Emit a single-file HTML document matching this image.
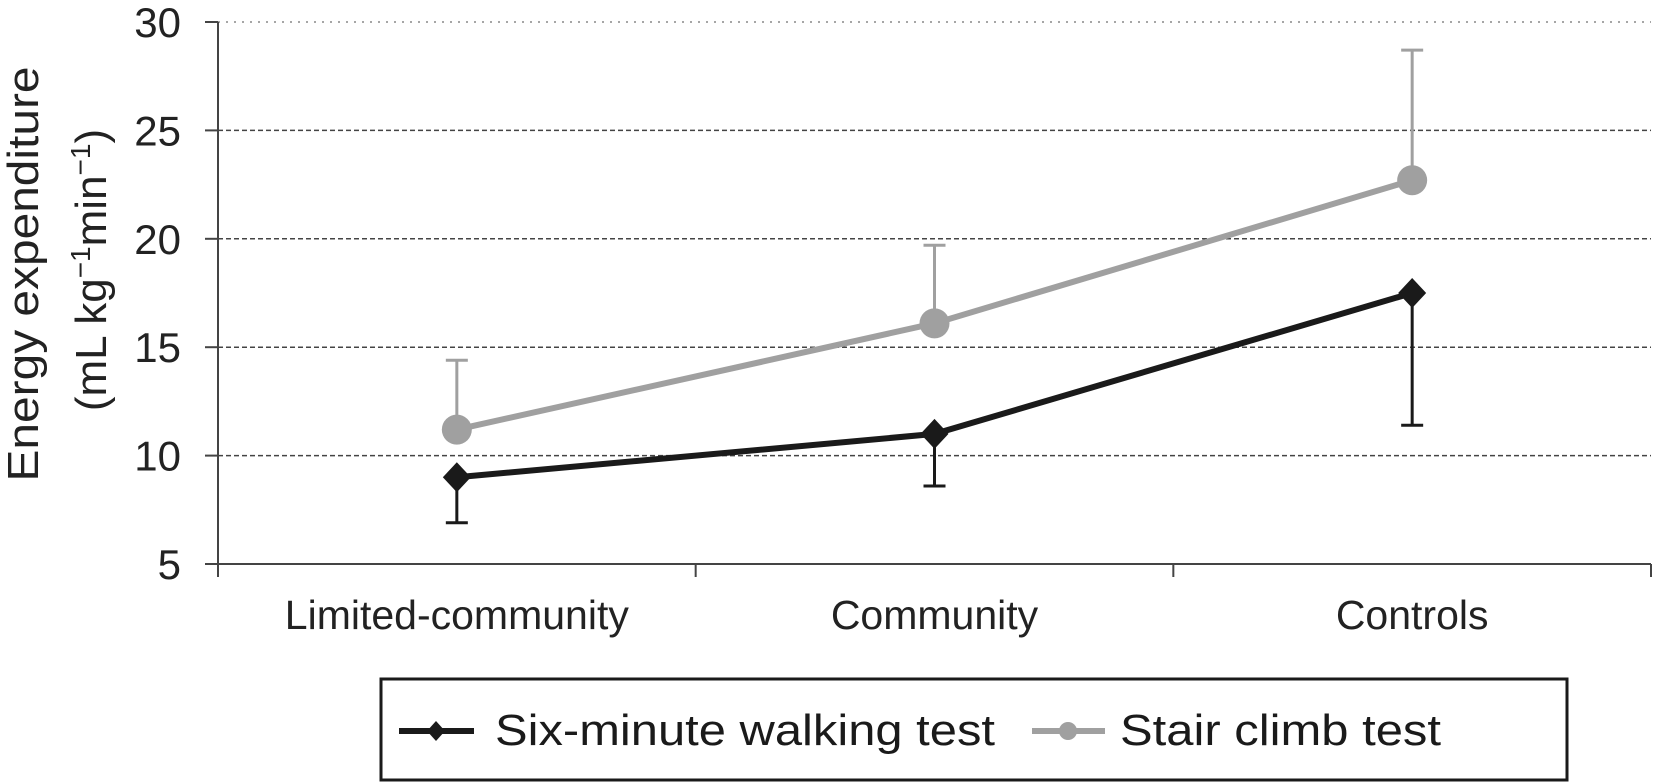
<!DOCTYPE html>
<html><head><meta charset="utf-8"><style>
html,body{margin:0;padding:0;background:#fff;}
svg{display:block;font-family:"Liberation Sans",Arial,sans-serif;}
</style></head><body>
<svg id="chart" width="1655" height="783" viewBox="0 0 1655 783">
<g id="grid"></g>
<g id="axes"></g>
<g id="series"></g>
<text transform="translate(38,274) rotate(-90)" text-anchor="middle" font-size="44" fill="#222" textLength="415" lengthAdjust="spacingAndGlyphs">Energy expenditure</text>
<text transform="translate(106,270) rotate(-90)" text-anchor="middle" font-size="44" fill="#222">(mL kg<tspan font-size="28" dy="-16">−1</tspan><tspan dy="16">min</tspan><tspan font-size="28" dy="-16">−1</tspan><tspan dy="16">)</tspan></text>
<g>
<rect x="381" y="679" width="1186" height="101" fill="#fff" stroke="#1a1a1a" stroke-width="3"/>
<g>
<line x1="399" y1="731" x2="474" y2="731" stroke="#1a1a1a" stroke-width="6"/>
<path d="M436 721 L445 731 L436 741 L427 731 Z" fill="#1a1a1a"/>
<text x="495" y="745" font-size="44" fill="#1a1a1a" textLength="500" lengthAdjust="spacingAndGlyphs">Six-minute walking test</text>
</g>
<g>
<line x1="1032" y1="731" x2="1105" y2="731" stroke="#a0a0a0" stroke-width="6"/>
<circle cx="1068" cy="731" r="9" fill="#a0a0a0"/>
<text x="1120" y="745" font-size="44" fill="#1a1a1a" textLength="321" lengthAdjust="spacingAndGlyphs">Stair climb test</text>
</g>
</g>
</svg>
<script>
const categories = ["Limited-community", "Community", "Controls"];
const sixMinute = [9.0, 11.0, 17.5];
const sixMinuteLower = [6.9, 8.6, 11.4];
const stairClimb = [11.2, 16.1, 22.7];
const stairClimbUpper = [14.4, 19.7, 28.7];
const yTicks = [5, 10, 15, 20, 25, 30];

const NS = "http://www.w3.org/2000/svg";
const X0 = 218, X1 = 1651, Y0 = 564, Y1 = 22, VMIN = 5, VMAX = 30;
function yScale(v){ return Y0 - (v - VMIN) / (VMAX - VMIN) * (Y0 - Y1); }
const band = (X1 - X0) / categories.length;
function xScale(i){ return X0 + band * (i + 0.5); }
function mk(tag, attrs, parent){
  const e = document.createElementNS(NS, tag);
  for (const k in attrs) e.setAttribute(k, attrs[k]);
  parent.appendChild(e);
  return e;
}
const grid = document.getElementById('grid');
const axes = document.getElementById('axes');
const series = document.getElementById('series');

yTicks.forEach(t => {
  const y = yScale(t);
  if (t !== VMIN) {
    const g = mk('line', {x1: X0, x2: X1, y1: y, y2: y, stroke: t === VMAX ? '#888' : '#444', 'stroke-width': 1.5, 'stroke-dasharray': t === VMAX ? '2,6' : '5,3'}, grid);
    
    
  }
  const tk = mk('line', {x1: 205, x2: X0, y1: y, y2: y, stroke: '#444', 'stroke-width': 2}, axes);
  
  
  const lb = mk('text', {x: 181, y: y + 15, 'text-anchor': 'end', 'font-size': 42, fill: '#222'}, axes);
  lb.textContent = t;
  
  
});
const ya = mk('line', {x1: X0, x2: X0, y1: Y1, y2: 577, stroke: '#444', 'stroke-width': 2}, axes);


const xa = mk('line', {x1: X0, x2: X1, y1: Y0, y2: Y0, stroke: '#444', 'stroke-width': 2}, axes);


for (let i = 0; i <= categories.length; i++) {
  const x = X0 + band * i;
  const t = mk('line', {x1: x, x2: x, y1: Y0, y2: 577, stroke: '#444', 'stroke-width': 2}, axes);
  
  
}
categories.forEach((c, i) => {
  const t = mk('text', {x: xScale(i), y: 629, 'text-anchor': 'middle', 'font-size': 41, fill: '#222'}, axes);
  t.textContent = c;
  
  
});

stairClimb.forEach((v, i) => {
  const x = xScale(i);
  const e = mk('path', {d: `M${x} ${yScale(v)} V${yScale(stairClimbUpper[i])} M${x-11} ${yScale(stairClimbUpper[i])} H${x+11}`, stroke: '#a0a0a0', 'stroke-width': 3, fill: 'none'}, series);
  
  
});
sixMinute.forEach((v, i) => {
  const x = xScale(i);
  const e = mk('path', {d: `M${x} ${yScale(v)} V${yScale(sixMinuteLower[i])} M${x-11} ${yScale(sixMinuteLower[i])} H${x+11}`, stroke: '#1a1a1a', 'stroke-width': 3, fill: 'none'}, series);
  
  
});
const gl = mk('polyline', {points: stairClimb.map((v, i) => xScale(i) + ',' + yScale(v)).join(' '), stroke: '#a0a0a0', 'stroke-width': 6, fill: 'none'}, series);


const bl = mk('polyline', {points: sixMinute.map((v, i) => xScale(i) + ',' + yScale(v)).join(' '), stroke: '#1a1a1a', 'stroke-width': 6, fill: 'none'}, series);


stairClimb.forEach((v, i) => {
  const c = mk('circle', {cx: xScale(i), cy: yScale(v), r: 15, fill: '#a0a0a0'}, series);
  
  
});
sixMinute.forEach((v, i) => {
  const x = xScale(i), y = yScale(v);
  const d = mk('path', {d: `M${x} ${y-15} L${x+14} ${y} L${x} ${y+15} L${x-14} ${y} Z`, fill: '#1a1a1a'}, series);
  
  
});
</script>
</body></html>
